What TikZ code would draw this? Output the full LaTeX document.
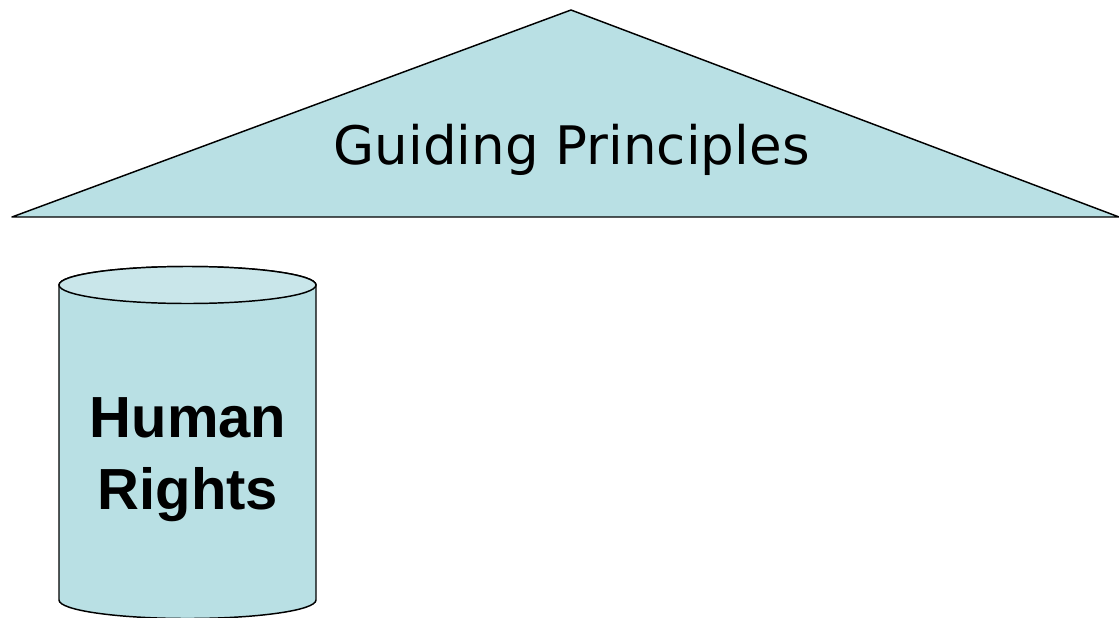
\documentclass[tikz,border=0pt]{standalone}
\usepackage{fontspec}
\setmainfont{DejaVu Sans}
\newfontfamily\arialfont{Liberation Sans}
\usepackage{xcolor}
\definecolor{RoofFill}{HTML}{B9E0E4}
\definecolor{TopFill}{HTML}{C9E6EA}
\tikzset{
  shapeline/.style={draw=black, line width=1.1pt, line join=round},
  rooftext/.style={font=\fontsize{39.8}{47}\selectfont, inner sep=0pt, anchor=base},
  pillartext/.style={font=\arialfont\bfseries\fontsize{43.5}{54}\selectfont, align=center, inner sep=0pt}
}
\begin{document}
\begin{tikzpicture}[x=0.75pt,y=-0.75pt]
\useasboundingbox (0,0) rectangle (1119,617);
\clip (0,0) rectangle (1119,617);
\draw[shapeline, fill=RoofFill] (12,217) -- (571,10) -- (1119,217) -- cycle;
\node[rooftext] (roof) at (571.5,164) {Guiding Principles};
\draw[shapeline, fill=RoofFill] (59,285) -- (59,600)
  arc[start angle=180, end angle=0, x radius=128.5, y radius=18.5]
  -- (316,285) arc[start angle=0, end angle=-180, x radius=128.5, y radius=18.5] -- cycle;
\draw[shapeline, fill=TopFill] (187.5,285) ellipse[x radius=128.5, y radius=18.5];
\node[pillartext] (pillar) at (188,460) {Human\\Rights};
\end{tikzpicture}
\end{document}
